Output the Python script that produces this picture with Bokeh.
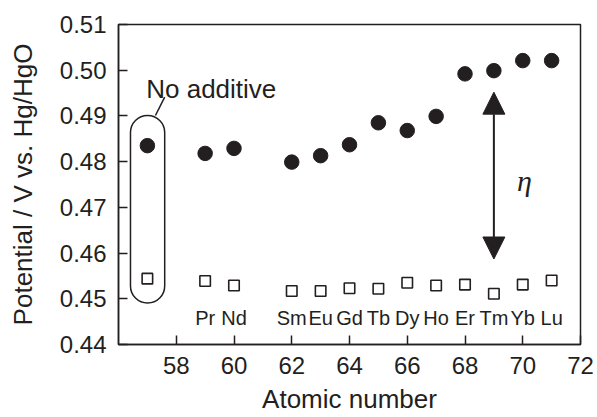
from bokeh.plotting import figure
from bokeh.models import (FixedTicker, PrintfTickFormatter, BoxAnnotation, Arrow,
                          NormalHead, Label, Range1d)
from bokeh.core.properties import value
from bokeh.embed import file_html
from bokeh.resources import INLINE

# ---- data ----
no_additive_x = 57
no_additive_filled = 0.4835
no_additive_open = 0.4544

atomic_number = [59, 60, 62, 63, 64, 65, 66, 67, 68, 69, 70, 71]
elements = ["Pr", "Nd", "Sm", "Eu", "Gd", "Tb", "Dy", "Ho", "Er", "Tm", "Yb", "Lu"]
potential_filled = [0.4818, 0.4829, 0.4799, 0.4813, 0.4837, 0.4885, 0.4868,
                    0.4899, 0.4992, 0.4999, 0.5021, 0.5021]
potential_open = [0.4539, 0.4529, 0.4517, 0.4517, 0.4523, 0.4522, 0.4535,
                  0.4529, 0.4531, 0.4511, 0.4531, 0.4540]

x_ticks = [58, 60, 62, 64, 66, 68, 70, 72]
y_ticks = [0.44, 0.45, 0.46, 0.47, 0.48, 0.49, 0.50, 0.51]

INK = "#231f20"
FONT = "Liberation Sans"

p = figure(width=597, height=417, output_backend="svg", toolbar_location=None,
           x_range=Range1d(56, 72), y_range=Range1d(0.44, 0.51),
           min_border_left=118, min_border_right=17, min_border_top=24,
           min_border_bottom=73)
p.grid.visible = False
p.outline_line_color = INK
p.outline_line_width = 1.5
p.outline_line_alpha = 1.0
p.background_fill_color = "white"
p.border_fill_color = "white"

for ax in (p.xaxis[0], p.yaxis[0]):
    ax.axis_line_color = INK
    ax.axis_line_width = 1.5
    ax.major_tick_line_color = INK
    ax.major_tick_line_width = 1.5
    ax.major_tick_in = 9
    ax.major_tick_out = 0
    ax.minor_tick_line_color = None
    ax.major_label_text_font = FONT
    ax.major_label_text_font_size = "24px"
    ax.major_label_text_color = INK
    ax.axis_label_text_font = FONT
    ax.axis_label_text_font_size = "26px"
    ax.axis_label_text_font_style = "normal"
    ax.axis_label_text_color = INK

p.xaxis.ticker = FixedTicker(ticks=x_ticks)
p.yaxis.ticker = FixedTicker(ticks=y_ticks)
p.yaxis.formatter = PrintfTickFormatter(format="%.2f")
p.xaxis.axis_label = "Atomic number"
p.yaxis.axis_label = "Potential / V vs. Hg/HgO"
p.xaxis.major_label_standoff = 12
p.yaxis.major_label_standoff = 12
p.xaxis.axis_label_standoff = 7
p.yaxis.axis_label_standoff = 19

# ---- markers ----
all_x = [no_additive_x] + atomic_number
p.scatter(all_x, [no_additive_filled] + potential_filled, marker="circle",
          size=14.5, fill_color=INK, line_color=INK)
p.scatter(all_x, [no_additive_open] + potential_open, marker="square",
          size=10.5, fill_color="white", line_color=INK, line_width=1.6)

# element labels
p.text(x=atomic_number, y=[0.4458] * len(atomic_number), text=elements,
       text_align="center", text_baseline="alphabetic",
       text_font=value(FONT), text_font_size="20px", text_color=INK)

# rounded box around "no additive"
box = BoxAnnotation(left=no_additive_x - 0.585, right=no_additive_x + 0.6,
                    top=no_additive_filled + 0.0066, bottom=no_additive_open - 0.0053,
                    border_radius=17, fill_alpha=0, line_color=INK, line_alpha=1.0,
                    line_width=1.5)
p.add_layout(box)
p.segment(x0=[no_additive_x + 0.28], y0=[no_additive_filled + 0.0066],
          x1=[no_additive_x + 0.6], y1=[0.4941], line_color=INK, line_width=1.5)
p.add_layout(Label(x=56.96, y=0.4959, text="No additive", text_font=FONT,
                   text_font_size="26px", text_color=INK,
                   text_baseline="alphabetic"))

# eta arrow
head = dict(size=22, fill_color=INK, line_color=INK, line_width=1)
p.add_layout(Arrow(x_start=69, y_start=0.4587, x_end=69, y_end=0.4952,
                   start=NormalHead(**head), end=NormalHead(**head),
                   line_color=INK, line_width=2))
p.add_layout(Label(x=70.06, y=0.4759, text="η", text_font="Liberation Serif",
                   text_font_style="italic", text_font_size="30px",
                   text_color=INK, text_align="center", text_baseline="middle"))

open("out.html", "w").write(file_html(p, INLINE))
